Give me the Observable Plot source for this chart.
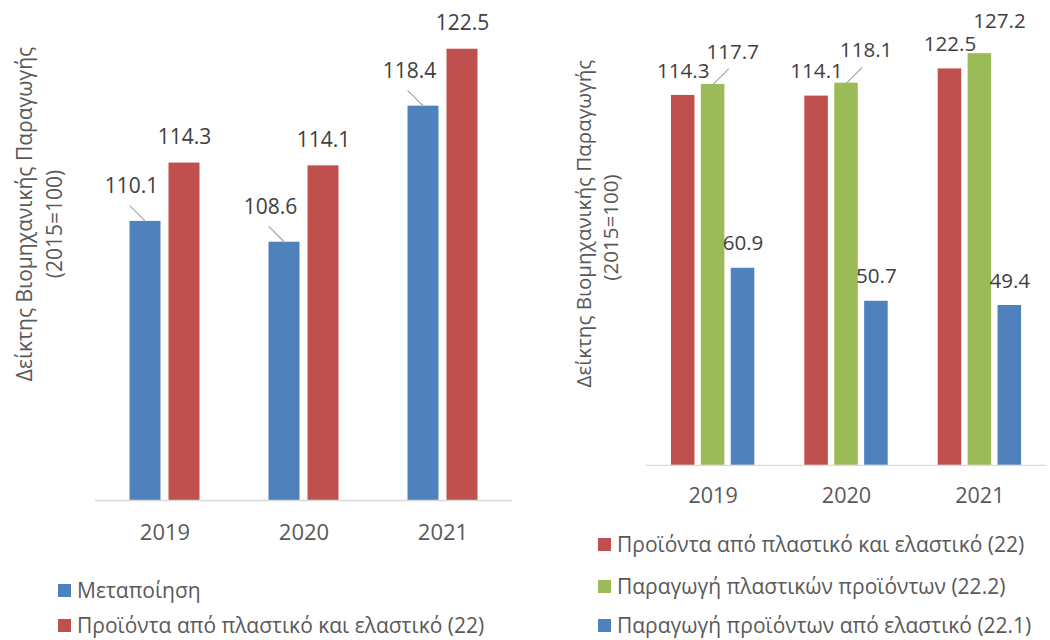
<!DOCTYPE html>
<html>
<head>
<meta charset="utf-8">
<script src="https://cdn.jsdelivr.net/npm/d3@7"></script>
<script src="https://cdn.jsdelivr.net/npm/@observablehq/plot@0.6"></script>
<style>
html, body { margin: 0; padding: 0; background: #fff; overflow: hidden; width: 1050px; height: 640px; }
body { position: relative; font-family: "Open Sans", sans-serif; color: #595959; }
.panel { position: absolute; top: 0; }
.panel svg text { font-size: 21px; }
.panel svg g[aria-label*="fx-axis"] text { font-size: 22px; }
.leg { position: absolute; display: flex; align-items: center; height: 30px; font-size: 21px; white-space: nowrap; color: #595959; }
.sw { width: 13px; height: 13px; margin-right: 6px; flex: none; }
</style>
</head>
<body>
<div id="left" class="panel" style="left:0px"></div>
<div id="right" class="panel" style="left:540px"></div>
<div id="legends"></div>
<script>
// ---- data ----
const years = ["2019", "2020", "2021"];
const leftSeries = ["Μεταποίηση", "Προϊόντα από πλαστικό και ελαστικό (22)"];
const manufacturing = [110.1, 108.6, 118.4];
const plasticRubber = [114.3, 114.1, 122.5];
const rightSeries = [
  "Προϊόντα από πλαστικό και ελαστικό (22)",
  "Παραγωγή πλαστικών προϊόντων (22.2)",
  "Παραγωγή προϊόντων από ελαστικό (22.1)"
];
const plasticProducts = [117.7, 118.1, 127.2];
const rubberProducts = [60.9, 50.7, 49.4];
const yTitle = ["Δείκτης Βιομηχανικής Παραγωγής", "(2015=100)"];
const greenLeaderYears = ["2019", "2020"];

const BLUE = "#4F81BD", RED = "#C0504D", GREEN = "#9BBB59";
const LABEL = "#404040", LEADER = "#A6A6A6", AXIS = "#D9D9D9";
const fontStyle = { fontFamily: '"Open Sans", sans-serif', fontSize: "21px", color: "#595959", background: "transparent", overflow: "visible" };
const fmt = d => d.value.toFixed(1);

// ---- left chart ----
const leftData = years.flatMap((yr, i) => [
  { year: yr, series: leftSeries[0], value: manufacturing[i] },
  { year: yr, series: leftSeries[1], value: plasticRubber[i] }
]);
const leftMin = 90;
const leftBlue = leftData.filter(d => d.series === leftSeries[0]);
const leftRed = leftData.filter(d => d.series === leftSeries[1]);

const leftPlot = Plot.plot({
  width: 530, height: 560,
  marginLeft: 95, marginRight: 18, marginTop: 14, marginBottom: 60,
  style: fontStyle,
  fx: { domain: years, padding: 0, round: false, axis: "bottom", tickSize: 0, tickPadding: 24, label: null },
  x: { domain: leftSeries, paddingInner: 0.205, paddingOuter: 0.885, round: false, axis: null },
  y: { domain: [leftMin, 125], axis: null },
  color: { domain: leftSeries, range: [BLUE, RED] },
  marks: [
    Plot.barY(leftData, { fx: "year", x: "series", y1: () => leftMin, y2: "value", fill: "series" }),
    Plot.ruleY([leftMin], { stroke: AXIS, strokeWidth: 1.5 }),
    Plot.vector(leftBlue, { fx: "year", x: "series", y: "value", length: 22, rotate: -45, anchor: "start", shape: "spike", r: 0.01, stroke: LEADER, strokeWidth: 1.2, fill: "none" }),
    Plot.text(leftBlue, { fx: "year", x: "series", y: "value", text: fmt, dx: -14, dy: -35, fill: LABEL, fontSize: 21 }),
    Plot.text(leftRed, { fx: "year", x: "series", y: "value", text: fmt, dy: -26, fill: LABEL, fontSize: 21 })
  ]
});
document.getElementById("left").appendChild(leftPlot);

// ---- right chart ----
const rightData = years.flatMap((yr, i) => [
  { year: yr, series: rightSeries[0], value: plasticRubber[i] },
  { year: yr, series: rightSeries[1], value: plasticProducts[i] },
  { year: yr, series: rightSeries[2], value: rubberProducts[i] }
]);
const rightGreen = rightData.filter(d => d.series === rightSeries[1]);
const rightOther = rightData.filter(d => d.series !== rightSeries[1]);

const rightPlot = Plot.plot({
  width: 520, height: 540,
  marginLeft: 108, marginRight: 4, marginTop: 12, marginBottom: 66,
  style: fontStyle,
  fx: { domain: years, padding: 0, round: false, axis: "bottom", tickSize: 0, tickPadding: 23, label: null },
  x: { domain: rightSeries, paddingInner: 0.213, paddingOuter: 0.836, round: false, axis: null },
  y: { domain: [0, 140], axis: null },
  color: { domain: rightSeries, range: [RED, GREEN, BLUE] },
  marks: [
    Plot.barY(rightData, { fx: "year", x: "series", y: "value", fill: "series" }),
    Plot.ruleY([0], { stroke: AXIS, strokeWidth: 1.5 }),
    Plot.vector(rightGreen.filter(d => greenLeaderYears.includes(d.year)), { fx: "year", x: "series", y: "value", length: 22, rotate: 45, anchor: "start", shape: "spike", r: 0.01, stroke: LEADER, strokeWidth: 1.2, fill: "none" }),
    Plot.text(rightGreen, { fx: "year", x: "series", y: "value", text: fmt, dx: 20, dy: -33, fill: LABEL, fontSize: 21 }),
    Plot.text(rightOther, { fx: "year", x: "series", y: "value", text: fmt, dy: -25, fill: LABEL, fontSize: 21 })
  ]
});
document.getElementById("right").appendChild(rightPlot);

// ---- rotated y-axis titles ----
function addTitle(svg, xs, cys) {
  const s = d3.select(svg);
  yTitle.forEach((t, i) => {
    s.append("text")
      .attr("transform", `translate(${xs[i]},${cys[i]}) rotate(-90)`)
      .attr("text-anchor", "middle")
      .attr("fill", "#595959")
      .attr("font-size", 21)
      .attr("font-family", '"Open Sans", sans-serif')
      .text(t);
  });
}
addTitle(leftPlot, [32, 62], [214, 224]);
addTitle(rightPlot, [592 - 540, 620 - 540], [228, 232]);

// ---- legends ----
const legends = document.getElementById("legends");
function addLegend(items, colors, left, tops) {
  items.forEach((name, i) => {
    const row = document.createElement("div");
    row.className = "leg";
    row.style.left = left + "px";
    row.style.top = tops[i] + "px";
    const sw = document.createElement("span");
    sw.className = "sw";
    sw.style.background = colors[i];
    const tx = document.createElement("span");
    tx.textContent = name;
    row.appendChild(sw);
    row.appendChild(tx);
    legends.appendChild(row);
  });
}
addLegend(leftSeries, [BLUE, RED], 58, [575, 610]);
addLegend(rightSeries, [RED, GREEN, BLUE], 598, [529, 571, 610]);
</script>
</body>
</html>
